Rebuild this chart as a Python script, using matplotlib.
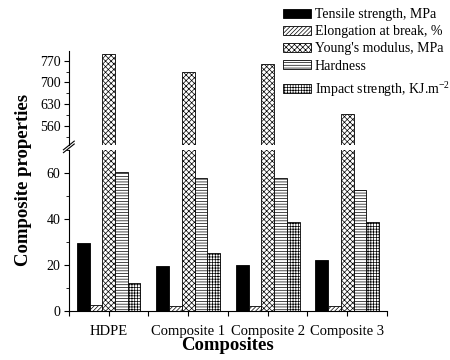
import matplotlib
matplotlib.use("Agg")
import matplotlib.pyplot as plt
import numpy as np
from matplotlib.patches import Patch
from matplotlib.ticker import MultipleLocator

plt.rcParams['font.family'] = ['Liberation Serif', 'DejaVu Serif']
plt.rcParams['hatch.linewidth'] = 0.5
plt.rcParams['mathtext.fontset'] = 'custom'
plt.rcParams['mathtext.rm'] = 'Liberation Serif'

categories = ["HDPE", "Composite 1", "Composite 2", "Composite 3"]
series_names = ["Tensile strength, MPa", "Elongation at break, %",
                "Young's modulus, MPa", "Hardness", "Impact strength, KJ.m$^{-2}$"]
tensile = [29.6, 19.4, 19.9, 22.0]
elongation = [2.5, 2.1, 2.1, 2.1]
youngs = [793, 733, 759, 599]
hardness = [60.3, 58.0, 57.6, 52.5]
impact = [12.2, 25.1, 38.8, 38.4]
series = [tensile, elongation, youngs, hardness, impact]

styles = [dict(facecolor='black', hatch=None),
          dict(facecolor='white', hatch='////////'),
          dict(facecolor='white', hatch='xxxxxx'),
          dict(facecolor='white', hatch='------'),
          dict(facecolor='white', hatch='++++++')]

fig = plt.figure(figsize=(4.5, 3.6), dpi=100)
ax_lo = fig.add_axes([0.153, 0.1375, 0.707, 0.4458])
ax_hi = fig.add_axes([0.153, 0.5983, 0.707, 0.2589], sharex=ax_lo)

x = np.arange(len(categories))
w = 0.16
for i, (vals, st) in enumerate(zip(series, styles)):
    pos = x + (i - 2) * w
    for ax in (ax_lo, ax_hi):
        ax.bar(pos, vals, width=w, edgecolor='black', linewidth=0.6, **st)

ax_lo.set_ylim(0, 70)
ax_hi.set_ylim(500, 800)
ax_lo.set_xlim(-0.5, 3.5)
ax_lo.set_yticks([0, 20, 40, 60])
ax_lo.yaxis.set_minor_locator(MultipleLocator(10))
ax_hi.set_yticks([560, 630, 700, 770])
ax_hi.yaxis.set_minor_locator(MultipleLocator(35))

for ax in (ax_lo, ax_hi):
    ax.spines['top'].set_visible(False)
    ax.spines['right'].set_visible(False)
    ax.tick_params(axis='both', labelsize=10, direction='out', length=3.5, width=0.8, pad=2.5)
    ax.tick_params(axis='y', which='minor', length=2, width=0.6)
ax_hi.spines['bottom'].set_visible(False)
ax_hi.tick_params(axis='x', which='both', bottom=False, labelbottom=False)

ax_lo.set_xticks(x)
ax_lo.set_xticklabels(categories)
ax_lo.xaxis.set_minor_locator(MultipleLocator(0.5))
ax_lo.tick_params(axis='x', which='minor', length=3.5, width=0.8)
ax_lo.tick_params(axis='x', which='major', length=3.5, pad=7, labelsize=10.5)
ax_lo.set_xlabel("Composites", fontsize=13.5, fontweight='bold', labelpad=-1)
fig.text(0.052, 0.5, "Composite properties", rotation=90, fontsize=13.5,
         fontweight='bold', ha='center', va='center')

# break marks
d = 0.012
kw = dict(transform=fig.transFigure, color='black', lw=0.8, clip_on=False)
xb = 0.153
for yb in (0.588, 0.596):
    fig.add_artist(plt.Line2D([xb - d, xb + d], [yb - 0.012, yb + 0.012], **kw))

handles = [Patch(edgecolor='black', linewidth=0.6, **st) for st in styles]
leg1 = fig.legend(handles[:4], series_names[:4], loc='upper left',
                  bbox_to_anchor=(283 / 450, 1 - 8 / 360),
                  frameon=False, fontsize=10, handlelength=2.0, handleheight=0.6,
                  handletextpad=0.3, labelspacing=0.3, borderaxespad=0, borderpad=0)
leg2 = fig.legend(handles[4:], series_names[4:], loc='center left',
                  bbox_to_anchor=(283 / 450, 1 - 89 / 360),
                  frameon=False, fontsize=10, handlelength=2.0, handleheight=0.6,
                  handletextpad=0.3, borderaxespad=0, borderpad=0)

fig.savefig("out.png", dpi=100)
